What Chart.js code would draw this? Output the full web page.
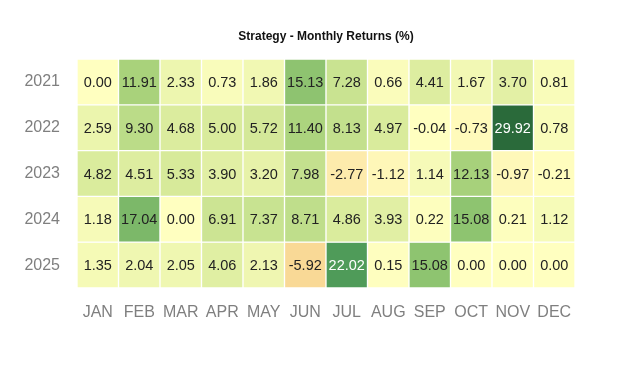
<!DOCTYPE html>
<html>
<head>
<meta charset="utf-8">
<script src="https://cdn.jsdelivr.net/npm/chart.js@4/dist/chart.umd.min.js"></script>
<style>
  html, body { margin: 0; padding: 0; background: #fff; }
  #wrap { width: 638px; height: 376px; }
</style>
</head>
<body>
<div id="wrap"><canvas id="heatmap" width="638" height="376"></canvas></div>
<script>
// ===== DATA =====
var months = ['JAN', 'FEB', 'MAR', 'APR', 'MAY', 'JUN', 'JUL', 'AUG', 'SEP', 'OCT', 'NOV', 'DEC'];
var years = ['2021', '2022', '2023', '2024', '2025'];

var returns2021 = [0.00, 11.91, 2.33, 0.73, 1.86, 15.13, 7.28, 0.66, 4.41, 1.67, 3.70, 0.81];
var returns2022 = [2.59, 9.30, 4.68, 5.00, 5.72, 11.40, 8.13, 4.97, -0.04, -0.73, 29.92, 0.78];
var returns2023 = [4.82, 4.51, 5.33, 3.90, 3.20, 7.98, -2.77, -1.12, 1.14, 12.13, -0.97, -0.21];
var returns2024 = [1.18, 17.04, 0.00, 6.91, 7.37, 8.71, 4.86, 3.93, 0.22, 15.08, 0.21, 1.12];
var returns2025 = [1.35, 2.04, 2.05, 4.06, 2.13, -5.92, 22.02, 0.15, 15.08, 0.00, 0.00, 0.00];

var rows = [returns2021, returns2022, returns2023, returns2024, returns2025];

// ===== COLOURS =====
var colourStops = [
  [-6, [249, 217, 149]],
  [-3, [253, 233, 170]],
  [0, [255, 255, 192]],
  [5, [217, 235, 156]],
  [12, [168, 210, 123]],
  [15, [143, 196, 112]],
  [22, [79, 155, 89]],
  [30, [42, 106, 58]]
];

function cellColour(v) {
  if (v <= colourStops[0][0]) return rgb(colourStops[0][1]);
  for (var i = 1; i < colourStops.length; i++) {
    if (v <= colourStops[i][0]) {
      var a = colourStops[i - 1], b = colourStops[i];
      var t = (v - a[0]) / (b[0] - a[0]);
      return rgb([0, 1, 2].map(function(k) { return Math.round(a[1][k] + (b[1][k] - a[1][k]) * t); }));
    }
  }
  return rgb(colourStops[colourStops.length - 1][1]);
}

function rgb(c) { return 'rgb(' + c[0] + ',' + c[1] + ',' + c[2] + ')'; }

// ===== CELL LABELS =====
var cellLabels = {
  id: 'cellLabels',
  afterDatasetsDraw: function(chart) {
    var ctx = chart.ctx;
    ctx.save();
    ctx.font = '14.5px "Liberation Sans", Arial, sans-serif';
    ctx.textAlign = 'center';
    ctx.textBaseline = 'middle';
    chart.data.datasets.forEach(function(ds, i) {
      var meta = chart.getDatasetMeta(i);
      meta.data.forEach(function(el, j) {
        var v = rows[i][j];
        ctx.fillStyle = v > 20 ? '#ffffff' : '#222222';
        ctx.fillText(v.toFixed(2), el.x, (el.y + el.base) / 2 + 1);
      });
    });
    ctx.restore();
  }
};

// ===== CHART =====
var datasets = years.map(function(year, i) {
  return {
    label: year,
    data: months.map(function() { return [i, i + 1]; }),
    backgroundColor: rows[i].map(cellColour),
    borderColor: '#ffffff',
    borderWidth: 1,
    borderSkipped: false,
    grouped: false,
    barPercentage: 1,
    categoryPercentage: 1
  };
});

new Chart(document.getElementById('heatmap'), {
  type: 'bar',
  data: { labels: months, datasets: datasets },
  plugins: [cellLabels],
  options: {
    responsive: false,
    animation: false,
    layout: { padding: { left: 0, right: 63, top: 0, bottom: 0 } },
    plugins: {
      legend: { display: false },
      tooltip: { enabled: false },
      title: {
        display: true,
        fullSize: false,
        text: 'Strategy - Monthly Returns (%)',
        color: '#111',
        font: { family: '"Liberation Sans", Arial, sans-serif', size: 12, weight: 'bold' },
        padding: { top: 29, bottom: 15.6 }
      }
    },
    scales: {
      x: {
        grid: { display: false },
        border: { display: false },
        ticks: {
          color: '#7f7f7f',
          padding: 7,
          autoSkip: false,
          maxRotation: 0,
          minRotation: 0,
          font: { family: '"Liberation Sans", Arial, sans-serif', size: 16 }
        },
        afterFit: function(scale) { scale.height = 88; }
      },
      y: {
        type: 'linear',
        min: 0,
        max: years.length,
        reverse: true,
        grid: { display: false },
        border: { display: false },
        afterBuildTicks: function(axis) {
          axis.ticks = years.map(function(y, i) { return { value: i + 0.5 }; });
        },
        ticks: {
          color: '#7f7f7f',
          padding: 9,
          font: { family: '"Liberation Sans", Arial, sans-serif', size: 16 },
          callback: function(v) { return years[Math.floor(v)]; }
        },
        afterFit: function(scale) { scale.width = 77; }
      }
    }
  }
});
</script>
</body>
</html>
